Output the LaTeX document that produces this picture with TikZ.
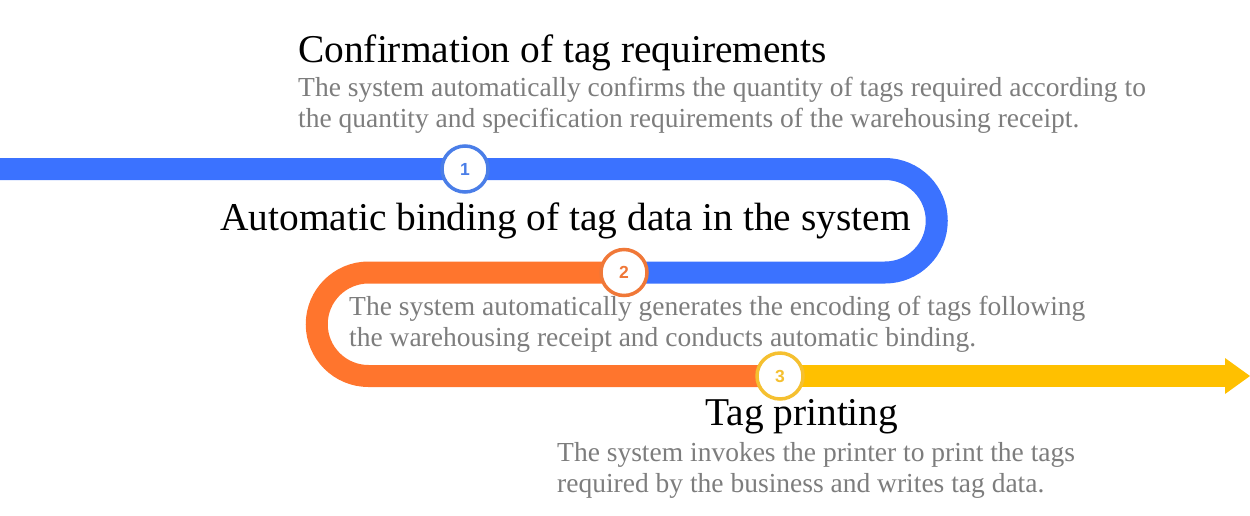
\documentclass[tikz,border=0pt]{standalone}
\usepackage{fontspec}
\setmainfont{Liberation Serif}
\newfontfamily\numfont{Liberation Sans}
\usetikzlibrary{backgrounds}
\definecolor{bandblue}{RGB}{59,114,255}
\definecolor{bandorange}{RGB}{255,117,45}
\definecolor{bandyellow}{RGB}{255,192,0}
\definecolor{ringblue}{RGB}{74,126,232}
\definecolor{ringorange}{RGB}{240,120,56}
\definecolor{ringyellow}{RGB}{245,192,48}
\definecolor{desc}{RGB}{125,125,125}
\tikzset{
  band/.style={line width=22pt},
  ring/.style={circle, draw=#1, line width=3.5pt, fill=white, minimum size=46pt, inner sep=0pt,
    text=#1, font=\numfont\bfseries\fontsize{17.5}{18}\selectfont},
  title/.style={anchor=base west, inner sep=0pt, font=\fontsize{39.4}{45}\selectfont},
  descline/.style={anchor=base west, inner sep=0pt, text=desc, font=\fontsize{27.5}{32}\selectfont},
}
\begin{document}
\begin{tikzpicture}[x=1pt,y=-1pt]
\useasboundingbox (0,0) rectangle (1250,515);
% rings
\node[ring=ringblue] (c1) at (465,169) {1};
\node[ring=ringorange] (c2) at (624,272.5) {2};
\node[ring=ringyellow] (c3) at (780,376) {3};
% free ends of the bands
\coordinate (start) at (0,169);
\coordinate (bturn) at (885,169);
\coordinate (oturn) at (368.5,272.5);
\coordinate (yend) at (1226,376);
\coordinate (tip) at (1250,376);
% bands
\begin{scope}[on background layer]
\draw[band, bandblue] (start) -- (bturn) arc[start angle=-90, end angle=90, radius=51.75] -- (c2.center);
\draw[band, bandorange] (c2.center) -- (oturn) arc[start angle=-90, end angle=-270, radius=51.75] -- (c3.center);
\draw[band, bandyellow] (c3.center) -- (yend);
\fill[bandyellow] (1225,358) -- (tip) -- (1225,394) -- cycle;
\end{scope}
% texts
\node[title] (t1) at (298,62) {Confirmation of tag requirements};
\node[descline] (d1a) at (298,96) {The system automatically confirms the quantity of tags required according to};
\node[descline] (d1b) at (298,127.5) {the quantity and specification requirements of the warehousing receipt.};
\node[title] (t2) at (220,230) {Automatic binding of tag data in the system};
\node[descline] (d2a) at (349,315) {The system automatically generates the encoding of tags following};
\node[descline] (d2b) at (349,346.5) {the warehousing receipt and conducts automatic binding.};
\node[title] (t3) at (705,425) {Tag printing};
\node[descline] (d3a) at (557,461) {The system invokes the printer to print the tags};
\node[descline] (d3b) at (557,492) {required by the business and writes tag data.};
\end{tikzpicture}
\end{document}
